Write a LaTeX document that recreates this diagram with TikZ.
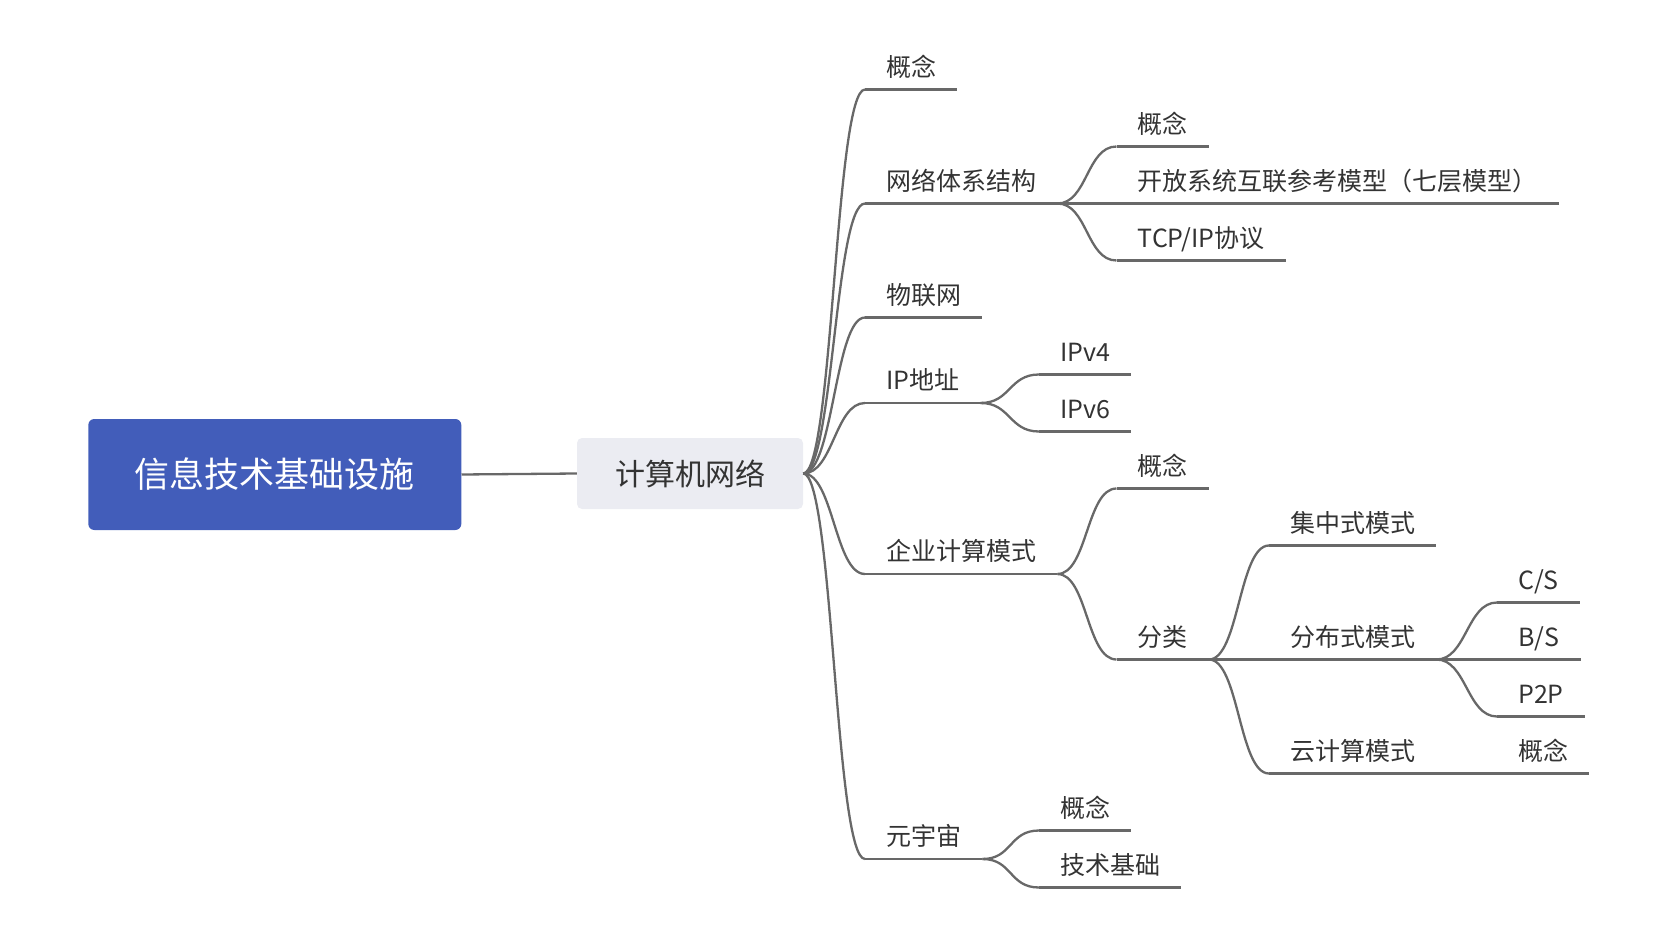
\documentclass[tikz,border=0pt]{standalone}
\usepackage{fontspec}
\setmainfont{Noto Sans CJK SC}
\usepackage{tikz}
\definecolor{MapBlue}{RGB}{66,93,186}
\definecolor{MapGray}{RGB}{235,236,242}
\definecolor{MapLine}{RGB}{104,104,104}
\definecolor{MapText}{RGB}{51,51,51}

\tikzset{
	root/.style={
		fill=MapBlue,
		rounded corners=6pt,
		minimum width=373pt,
		minimum height=111pt,
		text=white,
		font=\fontsize{35pt}{40pt}\selectfont
	},
	sub/.style={
		fill=MapGray,
		rounded corners=5pt,
		minimum width=226pt,
		minimum height=71pt,
		text=MapText,
		font=\fontsize{30pt}{36pt}\selectfont
	},
	topic/.style={
		anchor=south west,
		inner xsep=21pt,
		inner ysep=13pt,
		text height=22pt,
		text depth=0pt,
		text=MapText,
		font=\fontsize{25pt}{30pt}\selectfont
	},
	uline/.style={
		MapLine,
		line width=2.3pt
	},
	branch/.style={
		MapLine,
		line width=2.3pt,
		to path={.. controls +(30pt,0) and +(-30pt,0) .. (\tikztotarget)}
	}
}

\begin{document}
\begin{tikzpicture}[x=1pt,y=-1pt]
				
				\useasboundingbox (0,0) rectangle (1670,952);
				
				% Centre
				\node[root] (root) at (274.8,474.5) {信息技术基础设施};
				\node[sub] (net) at (690,473.5) {计算机网络};
				
				% Level one
				\node[topic] (c1) at (865,89.5) {概念};
				\node[topic] (arch) at (865,203.5) {网络体系结构};
				\node[topic] (iot) at (865,317.5) {物联网};
				\node[topic] (ip) at (865,403) {IP地址};
				\node[topic] (ent) at (865,574) {企业计算模式};
				\node[topic] (meta) at (865,859) {元宇宙};
				
				% Level two
				\node[topic] (archc) at (1116.5,146.5) {概念};
				\node[topic] (osi) at (1116.5,203.5) {开放系统互联参考模型（七层模型）};
				\node[topic] (tcp) at (1116.5,260.5) {TCP/IP协议};
				\node[topic] (v4) at (1039,374.5) {IPv4};
				\node[topic] (v6) at (1039,431.5) {IPv6};
				\node[topic] (entc) at (1116.5,488.5) {概念};
				\node[topic] (cls) at (1116.5,659.5) {分类};
				\node[topic] (metac) at (1039,830.5) {概念};
				\node[topic] (metab) at (1039,887.5) {技术基础};
				
				% Modes
				\node[topic] (cen) at (1269,545.5) {集中式模式};
				\node[topic] (dis) at (1269,659.5) {分布式模式};
				\node[topic] (cloud) at (1269,773.5) {云计算模式};
				\node[topic] (cs) at (1497,602.5) {C/S};
				\node[topic] (bs) at (1497,659.5) {B/S};
				\node[topic] (pp) at (1497,716.5) {P2P};
				\node[topic] (cloudc) at (1497,773.5) {概念};
				
				% Underlines
				\foreach \n in {c1,arch,iot,ip,ent,meta,archc,osi,tcp,v4,v6,entc,cls,metac,metab,cen,dis,cloud,cs,bs,pp,cloudc}
				\draw[uline] (\n.south west) -- (\n.south east);
				
				% Connections
				\draw[uline] (root.east) -- (net.west);
				
				\foreach \n in {c1,arch,iot,ip,ent,meta}
				\draw[branch] (net.east) to (\n.south west);
				
				\foreach \a/\b in {arch/archc,arch/osi,arch/tcp,ip/v4,ip/v6,ent/entc,ent/cls,meta/metac,meta/metab,cls/cen,cls/dis,cls/cloud,dis/cs,dis/bs,dis/pp,cloud/cloudc}
				\draw[branch] (\a.south east) to (\b.south west);
				
			\end{tikzpicture}
\end{document}
